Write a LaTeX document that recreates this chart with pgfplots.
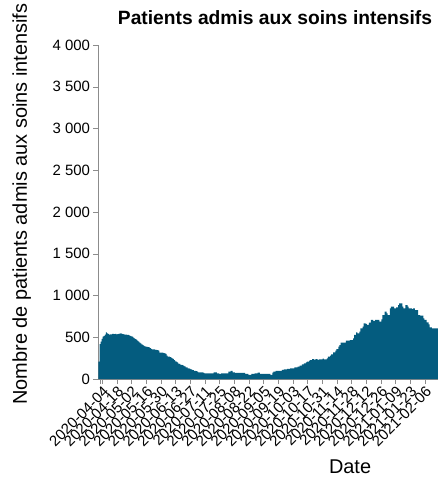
\documentclass[border=0pt]{standalone}
\usepackage{fontspec}
\setmainfont{Liberation Sans}
\usepackage{pgfplots}
\pgfplotsset{compat=1.18}
\usepackage{pgfplotstable}
\definecolor{bar}{HTML}{045C7F}
\definecolor{axgray}{HTML}{8C8C8C}

% daily count of ICU patients, first row = 2020-04-01
\pgfplotstableread[row sep=\\]{
v\\
207\\ 419\\ 447\\ 480\\ 507\\ 515\\ 530\\ 559\\ 547\\ 540\\
527\\ 533\\ 535\\ 539\\ 539\\ 537\\ 539\\ 535\\ 537\\ 540\\
543\\ 547\\ 539\\ 537\\ 535\\ 531\\ 531\\ 529\\ 527\\ 522\\
515\\ 510\\ 507\\ 497\\ 488\\ 479\\ 470\\ 458\\ 447\\ 437\\
426\\ 415\\ 406\\ 396\\ 390\\ 387\\ 384\\ 381\\ 379\\ 370\\
362\\ 355\\ 355\\ 355\\ 350\\ 348\\ 345\\ 340\\ 315\\ 315\\
315\\ 315\\ 310\\ 307\\ 300\\ 280\\ 267\\ 267\\ 262\\ 255\\
247\\ 240\\ 227\\ 212\\ 207\\ 200\\ 185\\ 180\\ 168\\ 168\\
165\\ 156\\ 150\\ 140\\ 138\\ 128\\ 126\\ 120\\ 116\\ 110\\
105\\ 98\\ 96\\ 94\\ 88\\ 80\\ 80\\ 80\\ 80\\ 80\\
72\\ 68\\ 68\\ 68\\ 68\\ 68\\ 68\\ 68\\ 68\\ 68\\
80\\ 80\\ 80\\ 68\\ 68\\ 60\\ 60\\ 68\\ 68\\ 68\\
68\\ 68\\ 68\\ 68\\ 88\\ 88\\ 96\\ 96\\ 80\\ 80\\
72\\ 72\\ 72\\ 72\\ 72\\ 72\\ 72\\ 72\\ 72\\ 72\\
60\\ 60\\ 60\\ 48\\ 48\\ 48\\ 60\\ 60\\ 60\\ 68\\
68\\ 68\\ 76\\ 76\\ 60\\ 60\\ 60\\ 60\\ 60\\ 60\\
60\\ 60\\ 60\\ 60\\ 48\\ 48\\ 76\\ 88\\ 88\\ 96\\
96\\ 96\\ 96\\ 96\\ 96\\ 108\\ 108\\ 116\\ 116\\ 116\\
120\\ 120\\ 120\\ 128\\ 128\\ 128\\ 128\\ 140\\ 140\\ 140\\
148\\ 148\\ 160\\ 160\\ 176\\ 176\\ 188\\ 188\\ 200\\ 208\\
208\\ 219\\ 227\\ 227\\ 239\\ 239\\ 227\\ 239\\ 239\\ 227\\
235\\ 235\\ 235\\ 235\\ 243\\ 235\\ 235\\ 235\\ 247\\ 267\\
267\\ 279\\ 295\\ 295\\ 319\\ 319\\ 339\\ 359\\ 359\\ 387\\
407\\ 435\\ 435\\ 435\\ 435\\ 435\\ 459\\ 459\\ 459\\ 459\\
467\\ 467\\ 467\\ 487\\ 527\\ 527\\ 559\\ 547\\ 547\\ 566\\
607\\ 607\\ 626\\ 667\\ 667\\ 659\\ 647\\ 647\\ 675\\ 675\\
707\\ 707\\ 695\\ 695\\ 707\\ 707\\ 707\\ 707\\ 687\\ 687\\
715\\ 766\\ 766\\ 806\\ 806\\ 787\\ 766\\ 766\\ 846\\ 866\\
866\\ 866\\ 846\\ 846\\ 858\\ 858\\ 886\\ 906\\ 906\\ 906\\
866\\ 846\\ 846\\ 886\\ 886\\ 866\\ 846\\ 846\\ 846\\ 838\\
846\\ 846\\ 826\\ 826\\ 826\\ 766\\ 766\\ 758\\ 758\\ 758\\
727\\ 707\\ 707\\ 679\\ 679\\ 655\\ 619\\ 619\\ 607\\ 607\\
607\\ 607\\ 607\\ 607\\ 607\\ 607\\ 607\\ 607\\
}\icu

\begin{document}
\begin{tikzpicture}
\begin{axis}[
  scale only axis,
  width=356.8bp, height=334bp,
  xmin=-0.5, xmax=340,
  ymin=0, ymax=4000,
  axis lines*=left,
  axis line style={axgray},
  tick style={axgray},
  tick align=outside,
  major tick length=5bp,
  ytick={0,500,...,4000},
  yticklabels={0,500,1 000,1 500,2 000,2 500,3 000,3 500,4 000},
  xtick={3,17,...,311},
  xticklabels={2020-04-04,2020-04-18,2020-05-02,2020-05-16,2020-05-30,2020-06-13,2020-06-27,2020-07-11,2020-07-25,2020-08-08,2020-08-22,2020-09-05,2020-09-19,2020-10-03,2020-10-17,2020-10-31,2020-11-14,2020-11-28,2020-12-12,2020-12-26,2021-01-09,2021-01-23,2021-02-06},
  extra x ticks={1}, extra x tick labels={},
  ticklabel style={font=\fontsize{15}{17}\selectfont},
  xticklabel style={rotate=45, anchor=north east, inner sep=1bp},
  title={Patients admis aux soins intensifs},
  title style={font=\bfseries\fontsize{19.3}{23}\selectfont, at={(axis description cs:0.4947,1.0449)}, anchor=base},
  xlabel={Date},
  xlabel style={font=\fontsize{20}{24}\selectfont, at={(axis description cs:0.705,-0.2844)}, anchor=base},
  ylabel={Nombre de patients admis aux soins intensifs},
  ylabel style={font=\fontsize{20}{24}\selectfont, at={(axis description cs:-0.2004,-0.0868)}, anchor=base west},
]
\addplot[ybar, bar width=1.06, bar shift=0pt, fill=bar, draw=none]
  table[x expr=\coordindex, y=v]{\icu};
\end{axis}
\pgfresetboundingbox
\useasboundingbox (-98.5bp,-104bp) rectangle (339.5bp,379bp);
\end{tikzpicture}
\end{document}
